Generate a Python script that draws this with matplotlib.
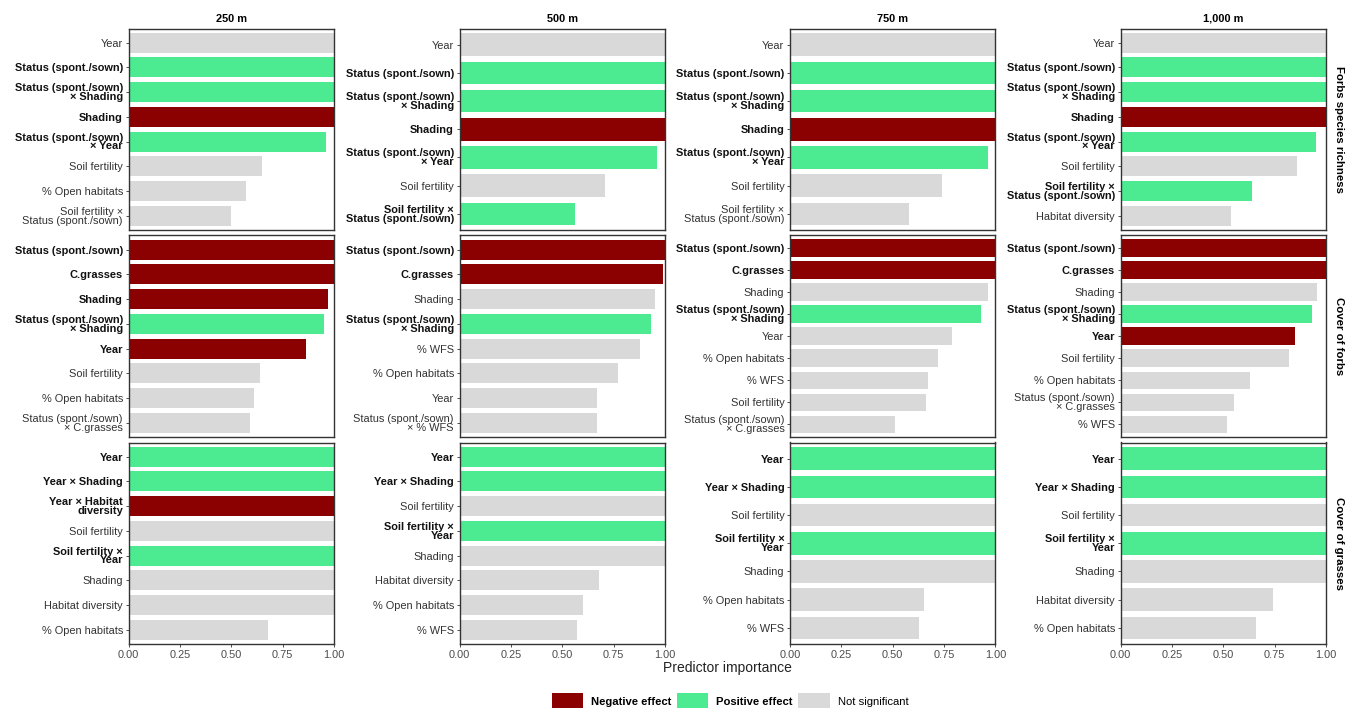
import matplotlib
matplotlib.use("Agg")
import matplotlib.pyplot as plt
from matplotlib.patches import Patch

plt.rcParams['font.family'] = ['Liberation Sans', 'DejaVu Sans']

buffers = ['250 m', '500 m', '750 m', '1,000 m']
responses = ['Forbs species richness', 'Cover of forbs', 'Cover of grasses']

# predictors listed top to bottom; effect: neg / pos / ns
richness_labels = [
    ['Year', 'Status (spont./sown)', 'Status (spont./sown)\n× Shading', 'Shading',
     'Status (spont./sown)\n× Year', 'Soil fertility', '% Open habitats',
     'Soil fertility ×\nStatus (spont./sown)'],
    ['Year', 'Status (spont./sown)', 'Status (spont./sown)\n× Shading', 'Shading',
     'Status (spont./sown)\n× Year', 'Soil fertility', 'Soil fertility ×\nStatus (spont./sown)'],
    ['Year', 'Status (spont./sown)', 'Status (spont./sown)\n× Shading', 'Shading',
     'Status (spont./sown)\n× Year', 'Soil fertility', 'Soil fertility ×\nStatus (spont./sown)'],
    ['Year', 'Status (spont./sown)', 'Status (spont./sown)\n× Shading', 'Shading',
     'Status (spont./sown)\n× Year', 'Soil fertility', 'Soil fertility ×\nStatus (spont./sown)',
     'Habitat diversity'],
]
richness_values = [
    [1.0, 1.0, 1.0, 1.0, 0.963, 0.65, 0.573, 0.50],
    [1.0, 1.0, 1.0, 1.0, 0.96, 0.71, 0.56],
    [1.0, 1.0, 1.0, 1.0, 0.963, 0.74, 0.58],
    [1.0, 1.0, 1.0, 1.0, 0.95, 0.86, 0.64, 0.54],
]
richness_effects = [
    ['ns', 'pos', 'pos', 'neg', 'pos', 'ns', 'ns', 'ns'],
    ['ns', 'pos', 'pos', 'neg', 'pos', 'ns', 'pos'],
    ['ns', 'pos', 'pos', 'neg', 'pos', 'ns', 'ns'],
    ['ns', 'pos', 'pos', 'neg', 'pos', 'ns', 'pos', 'ns'],
]

forbs_labels = [
    ['Status (spont./sown)', 'C.grasses', 'Shading', 'Status (spont./sown)\n× Shading', 'Year',
     'Soil fertility', '% Open habitats', 'Status (spont./sown)\n× C.grasses'],
    ['Status (spont./sown)', 'C.grasses', 'Shading', 'Status (spont./sown)\n× Shading', '% WFS',
     '% Open habitats', 'Year', 'Status (spont./sown)\n× % WFS'],
    ['Status (spont./sown)', 'C.grasses', 'Shading', 'Status (spont./sown)\n× Shading', 'Year',
     '% Open habitats', '% WFS', 'Soil fertility', 'Status (spont./sown)\n× C.grasses'],
    ['Status (spont./sown)', 'C.grasses', 'Shading', 'Status (spont./sown)\n× Shading', 'Year',
     'Soil fertility', '% Open habitats', 'Status (spont./sown)\n× C.grasses', '% WFS'],
]
forbs_values = [
    [1.0, 1.0, 0.973, 0.951, 0.862, 0.642, 0.613, 0.59],
    [1.0, 0.99, 0.95, 0.93, 0.88, 0.77, 0.67, 0.67],
    [1.0, 1.0, 0.963, 0.93, 0.79, 0.72, 0.67, 0.66, 0.51],
    [1.0, 1.0, 0.955, 0.93, 0.85, 0.82, 0.63, 0.55, 0.52],
]
forbs_effects = [
    ['neg', 'neg', 'neg', 'pos', 'neg', 'ns', 'ns', 'ns'],
    ['neg', 'neg', 'ns', 'pos', 'ns', 'ns', 'ns', 'ns'],
    ['neg', 'neg', 'ns', 'pos', 'ns', 'ns', 'ns', 'ns', 'ns'],
    ['neg', 'neg', 'ns', 'pos', 'neg', 'ns', 'ns', 'ns', 'ns'],
]

grasses_labels = [
    ['Year', 'Year × Shading', 'Year × Habitat\ndiversity', 'Soil fertility',
     'Soil fertility ×\nYear', 'Shading', 'Habitat diversity', '% Open habitats'],
    ['Year', 'Year × Shading', 'Soil fertility', 'Soil fertility ×\nYear', 'Shading',
     'Habitat diversity', '% Open habitats', '% WFS'],
    ['Year', 'Year × Shading', 'Soil fertility', 'Soil fertility ×\nYear', 'Shading',
     '% Open habitats', '% WFS'],
    ['Year', 'Year × Shading', 'Soil fertility', 'Soil fertility ×\nYear', 'Shading',
     'Habitat diversity', '% Open habitats'],
]
grasses_values = [
    [1.0, 1.0, 1.0, 1.0, 1.0, 1.0, 1.0, 0.68],
    [1.0, 1.0, 1.0, 1.0, 1.0, 0.68, 0.60, 0.57],
    [1.0, 1.0, 1.0, 1.0, 1.0, 0.65, 0.63],
    [1.0, 1.0, 1.0, 1.0, 1.0, 0.74, 0.66],
]
grasses_effects = [
    ['pos', 'pos', 'neg', 'ns', 'pos', 'ns', 'ns', 'ns'],
    ['pos', 'pos', 'ns', 'pos', 'ns', 'ns', 'ns', 'ns'],
    ['pos', 'pos', 'ns', 'pos', 'ns', 'ns', 'ns'],
    ['pos', 'pos', 'ns', 'pos', 'ns', 'ns', 'ns'],
]

effect_colors = {'neg': '#8b0000', 'pos': '#4deb91', 'ns': '#d9d9d9'}
effect_names = {'neg': 'Negative effect', 'pos': 'Positive effect', 'ns': 'Not significant'}

rows = [
    (richness_labels, richness_values, richness_effects),
    (forbs_labels, forbs_values, forbs_effects),
    (grasses_labels, grasses_values, grasses_effects),
]

W, H = 1348, 708
fig = plt.figure(figsize=(W / 100, H / 100), dpi=100)

col_left = [128.5, 459.5, 790.0, 1120.5]
row_top = [28.5, 235.5, 442.5]
panel_w, panel_h = 205.5, 201.5
fs = 7.9

for r, (labels_r, values_r, effects_r) in enumerate(rows):
    for c in range(4):
        ax = fig.add_axes([col_left[c] / W, 1 - (row_top[r] + panel_h) / H,
                           panel_w / W, panel_h / H])
        labels = labels_r[c]
        vals = values_r[c]
        effs = effects_r[c]
        n = len(labels)
        ypos = [n - 1 - i for i in range(n)]
        ax.barh(ypos, vals, height=0.8, color=[effect_colors[e] for e in effs])
        ax.set_xlim(0, 1)
        ax.set_ylim(-0.57, n - 0.43)
        ax.set_yticks(ypos)
        ax.set_yticklabels(labels, fontsize=fs, linespacing=0.85)
        for lab, e in zip(ax.get_yticklabels(), effs):
            if e != 'ns':
                lab.set_fontweight('bold')
                lab.set_color('#111111')
            else:
                lab.set_color('#333333')
        ax.tick_params(axis='y', length=2.5, width=0.6, color='#333333', pad=1.5)
        ax.set_xticks([0, 0.25, 0.5, 0.75, 1.0])
        if r == 2:
            ax.set_xticklabels(['0.00', '0.25', '0.50', '0.75', '1.00'])
            ax.tick_params(axis='x', length=2.5, width=0.6, color='#333333',
                           labelsize=fs, labelcolor='#4d4d4d', pad=2)
        else:
            ax.tick_params(axis='x', length=0, labelbottom=False)
        for sp in ax.spines.values():
            sp.set_linewidth(1.0)
            sp.set_color('#333333')
        if r == 0:
            ax.set_title(buffers[c], fontsize=fs, fontweight='bold', pad=5)
        if c == 3:
            ax.text(1.065, 0.5, responses[r], transform=ax.transAxes, rotation=270,
                    ha='center', va='center', fontsize=fs + 0.3, fontweight='bold')

fig.text(727 / W, 1 - 668 / H, 'Predictor importance', ha='center', va='center',
         fontsize=10, color='#222222')

handles = [Patch(facecolor=effect_colors[k], edgecolor='none') for k in ['neg', 'pos', 'ns']]
leg = fig.legend(handles, [effect_names[k] for k in ['neg', 'pos', 'ns']],
                 loc='center', bbox_to_anchor=(730 / W, 1 - 701 / H), ncol=3,
                 frameon=False, fontsize=fs + 0.2, handlelength=2.8, handleheight=1.9,
                 handletextpad=0.7, columnspacing=0.5)
for t in leg.get_texts()[:2]:
    t.set_fontweight('bold')

fig.savefig('out.png', dpi=100)
